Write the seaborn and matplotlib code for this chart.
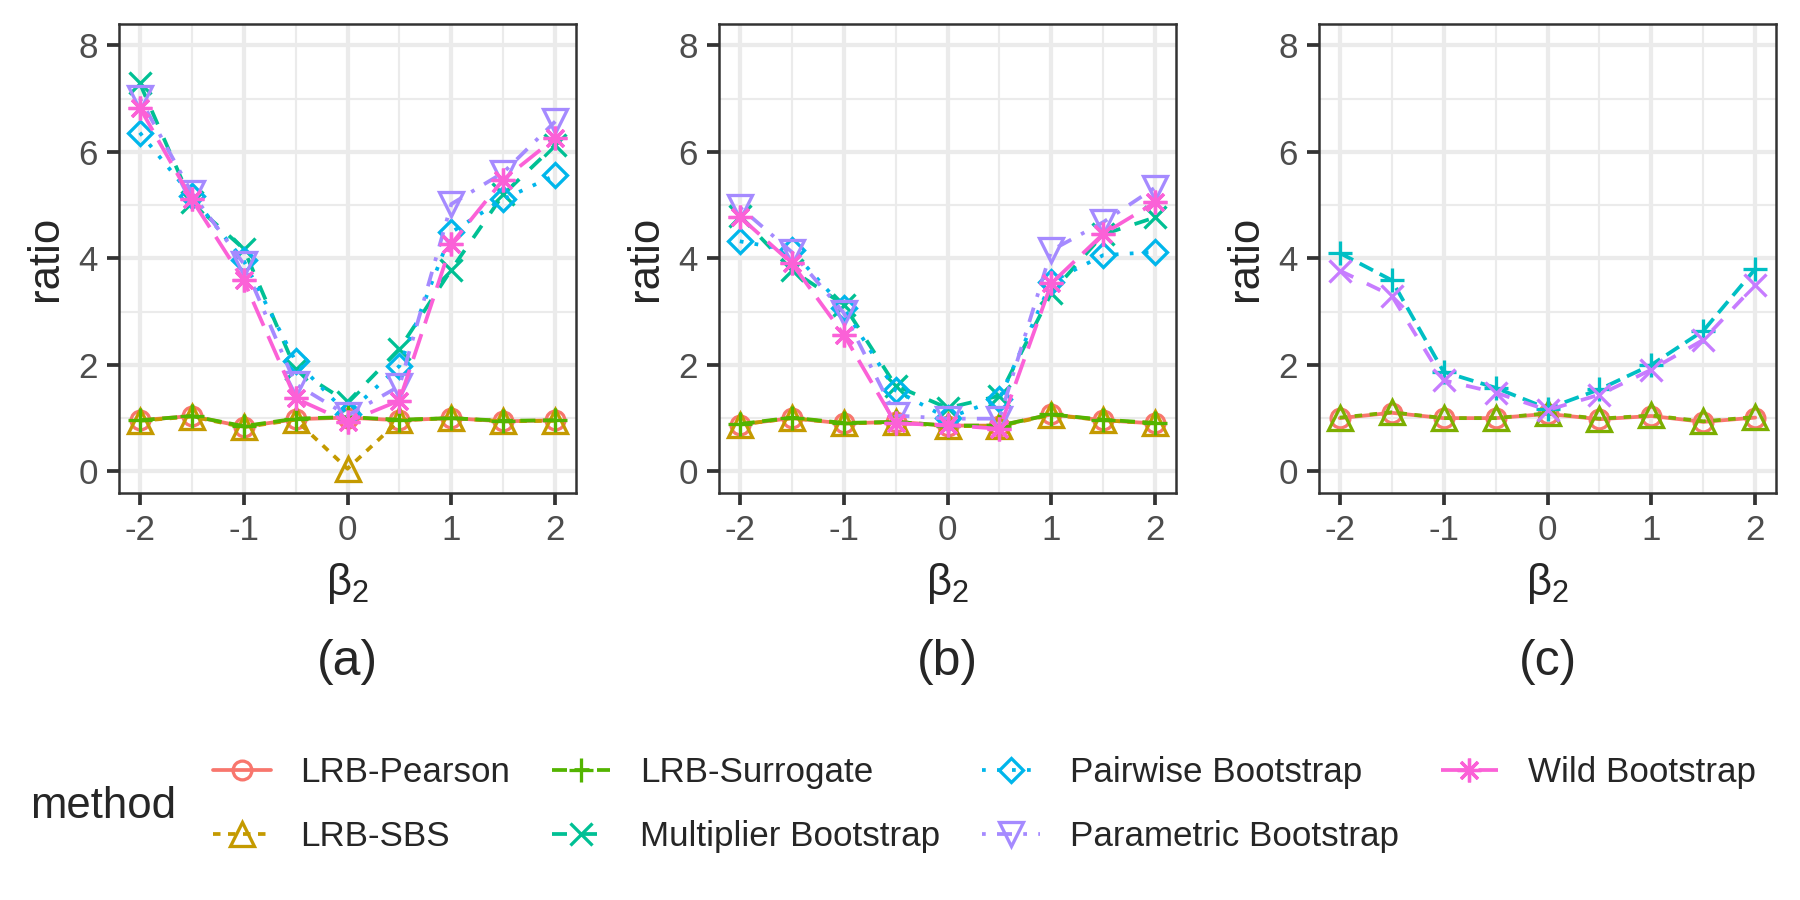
import numpy as np
import pandas as pd
import matplotlib
matplotlib.use('Agg')
import matplotlib.pyplot as plt
import seaborn as sns
from matplotlib.lines import Line2D
from matplotlib.markers import MarkerStyle

sns.set_theme(style='white')
plt.rcParams['font.family'] = ['Liberation Sans', 'DejaVu Sans']
plt.rcParams['axes.unicode_minus'] = False

# x values (beta_2)
beta = [-2, -1.5, -1, -0.5, 0, 0.5, 1, 1.5, 2]

methods = ['LRB-Pearson', 'LRB-SBS', 'LRB-Surrogate', 'Multiplier Bootstrap',
           'Pairwise Bootstrap', 'Parametric Bootstrap', 'Wild Bootstrap']

# panel (a)
a_pearson = [0.96, 1.04, 0.84, 0.98, 1.01, 0.96, 1.00, 0.94, 0.96]
a_sbs = [0.95, 1.03, 0.83, 0.97, 0.05, 0.96, 1.00, 0.94, 0.95]
a_surrogate = [0.96, 1.04, 0.85, 0.99, 1.02, 0.97, 1.00, 0.95, 0.96]
a_multiplier = [7.29, 5.05, 4.18, 1.92, 1.30, 2.30, 3.79, 5.20, 6.13]
a_pairwise = [6.36, 5.17, 3.96, 2.07, 1.08, 1.98, 4.49, 5.11, 5.56]
a_parametric = [7.01, 5.23, 3.90, 1.64, 1.05, 1.60, 5.02, 5.61, 6.57]
a_wild = [6.83, 5.11, 3.59, 1.37, 0.93, 1.33, 4.27, 5.48, 6.26]

# panel (b)
b_pearson = [0.88, 1.00, 0.90, 0.93, 0.86, 0.86, 1.07, 0.96, 0.90]
b_sbs = [0.88, 1.00, 0.90, 0.92, 0.85, 0.85, 1.06, 0.96, 0.90]
b_surrogate = [0.89, 1.01, 0.91, 0.93, 0.86, 0.86, 1.07, 0.97, 0.91]
b_multiplier = [4.80, 3.78, 3.13, 1.61, 1.19, 1.42, 3.35, 4.45, 4.77]
b_pairwise = [4.32, 4.15, 3.07, 1.52, 1.00, 1.36, 3.56, 4.06, 4.12]
b_parametric = [4.96, 4.12, 2.98, 1.05, 0.99, 0.99, 4.15, 4.68, 5.33]
b_wild = [4.78, 3.91, 2.57, 0.90, 0.87, 0.80, 3.53, 4.46, 5.05]

# panel (c) - only four methods
c_methods = ['LRB-Pearson', 'LRB-SBS', 'LRB-Surrogate', 'Multiplier Bootstrap']
c_pearson = [1.00, 1.10, 1.00, 1.00, 1.08, 0.98, 1.04, 0.93, 1.01]
c_sbs = [1.01, 1.11, 1.00, 1.00, 1.09, 0.99, 1.05, 0.94, 1.02]
c_surrogate = [4.10, 3.59, 1.87, 1.57, 1.18, 1.54, 2.00, 2.64, 3.80]
c_multiplier = [3.77, 3.30, 1.71, 1.48, 1.15, 1.44, 1.91, 2.47, 3.50]

# ggplot default hue palettes
pal7 = ['#F8766D', '#C49A00', '#53B400', '#00C094', '#00B6EB', '#A58AFF', '#FB61D7']
pal4 = ['#F8766D', '#7CAE00', '#00BFC4', '#C77CFF']
shapes = ['o', '^', '+', 'x', 'D', 'v', (8, 2, 0)]
shape_size = [6.0, 7.6, 7.4, 6.8, 5.5, 7.6, 7.6]
dash_list = ['', (2, 2), (4, 2), (4, 4), (1, 3), (1, 3, 4, 3), (7, 3)]


def long_df(names, series):
    rows = []
    for m, vals in zip(names, series):
        for b, v in zip(beta, vals):
            rows.append((m, b, v))
    return pd.DataFrame(rows, columns=['method', 'beta', 'ratio'])


df_a = long_df(methods, [a_pearson, a_sbs, a_surrogate, a_multiplier, a_pairwise, a_parametric, a_wild])
df_b = long_df(methods, [b_pearson, b_sbs, b_surrogate, b_multiplier, b_pairwise, b_parametric, b_wild])
df_c = long_df(c_methods, [c_pearson, c_sbs, c_surrogate, c_multiplier])

fig = plt.figure(figsize=(8, 4), dpi=225)

lefts = [119 / 1800, 719 / 1800, 1319 / 1800]
w = 457 / 1800
bot = 1 - 492.7 / 900
h = (492.7 - 24) / 900

panels = [(df_a, methods, pal7, '(a)'), (df_b, methods, pal7, '(b)'), (df_c, c_methods, pal4, '(c)')]
LW = 1.2

for left, (df, names, pal, cap) in zip(lefts, panels):
    ax = fig.add_axes([left, bot, w, h])
    n = len(names)
    palette = dict(zip(names, pal))
    mk = {m: MarkerStyle(shapes[i], fillstyle='none') for i, m in enumerate(names)}
    ds = {m: dash_list[i] for i, m in enumerate(names)}
    sns.lineplot(data=df, x='beta', y='ratio', hue='method', style='method',
                 hue_order=names, style_order=names, palette=palette,
                 markers=mk, dashes=ds, errorbar=None, legend=False, ax=ax,
                 lw=LW, mew=1.05, mec='auto', fillstyle='none')
    size_by_color = {pal[i].lower(): shape_size[i] for i in range(n)}
    for line in ax.lines:
        c = matplotlib.colors.to_hex(line.get_color()).lower()
        if c in size_by_color:
            line.set_markersize(size_by_color[c])

    ax.set_xlim(-2.2, 2.2)
    ax.set_ylim(-0.4, 8.4)
    ax.set_xticks([-2, -1, 0, 1, 2])
    ax.set_xticks([-1.5, -0.5, 0.5, 1.5], minor=True)
    ax.set_yticks([0, 2, 4, 6, 8])
    ax.set_yticks([1, 3, 5, 7], minor=True)
    ax.grid(which='major', color='#EBEBEB', lw=1.35)
    ax.grid(which='minor', color='#EBEBEB', lw=0.68)
    ax.set_axisbelow(True)
    for s in ax.spines.values():
        s.set_color('#333333')
        s.set_linewidth(0.8)
    ax.tick_params(which='major', length=3.8, width=1.2, color='#333333',
                   labelsize=11.2, labelcolor='#4D4D4D', pad=3, bottom=True, left=True)
    ax.tick_params(which='minor', length=0, bottom=False, left=False)
    ax.set_xlabel(r'$\mathregular{\beta_2}$', fontsize=14, labelpad=4.5)
    ax.set_ylabel('ratio', fontsize=14, labelpad=4)
    fig.text(left + w / 2, 1 - 662 / 900, cap, ha='center', va='center', fontsize=16)

# legend
handles = []
for i, m in enumerate(methods):
    ls = '-' if dash_list[i] == '' else (0, dash_list[i])
    handles.append(Line2D([], [], color=pal7[i], lw=LW, linestyle=ls,
                          marker=MarkerStyle(shapes[i], fillstyle='none'),
                          ms=shape_size[i], mew=1.05))
fig.legend(handles, methods, ncol=4, loc='center left',
           bbox_to_anchor=(213 / 1800, 1 - 804.5 / 900), frameon=False,
           fontsize=11.2, handlelength=1.65, handletextpad=0.85,
           columnspacing=1.2, labelspacing=0.9, borderpad=0, borderaxespad=0)
fig.text(30 / 1800, 1 - 807 / 900, 'method', ha='left', va='center', fontsize=14)

fig.savefig('out.png', dpi=225)
